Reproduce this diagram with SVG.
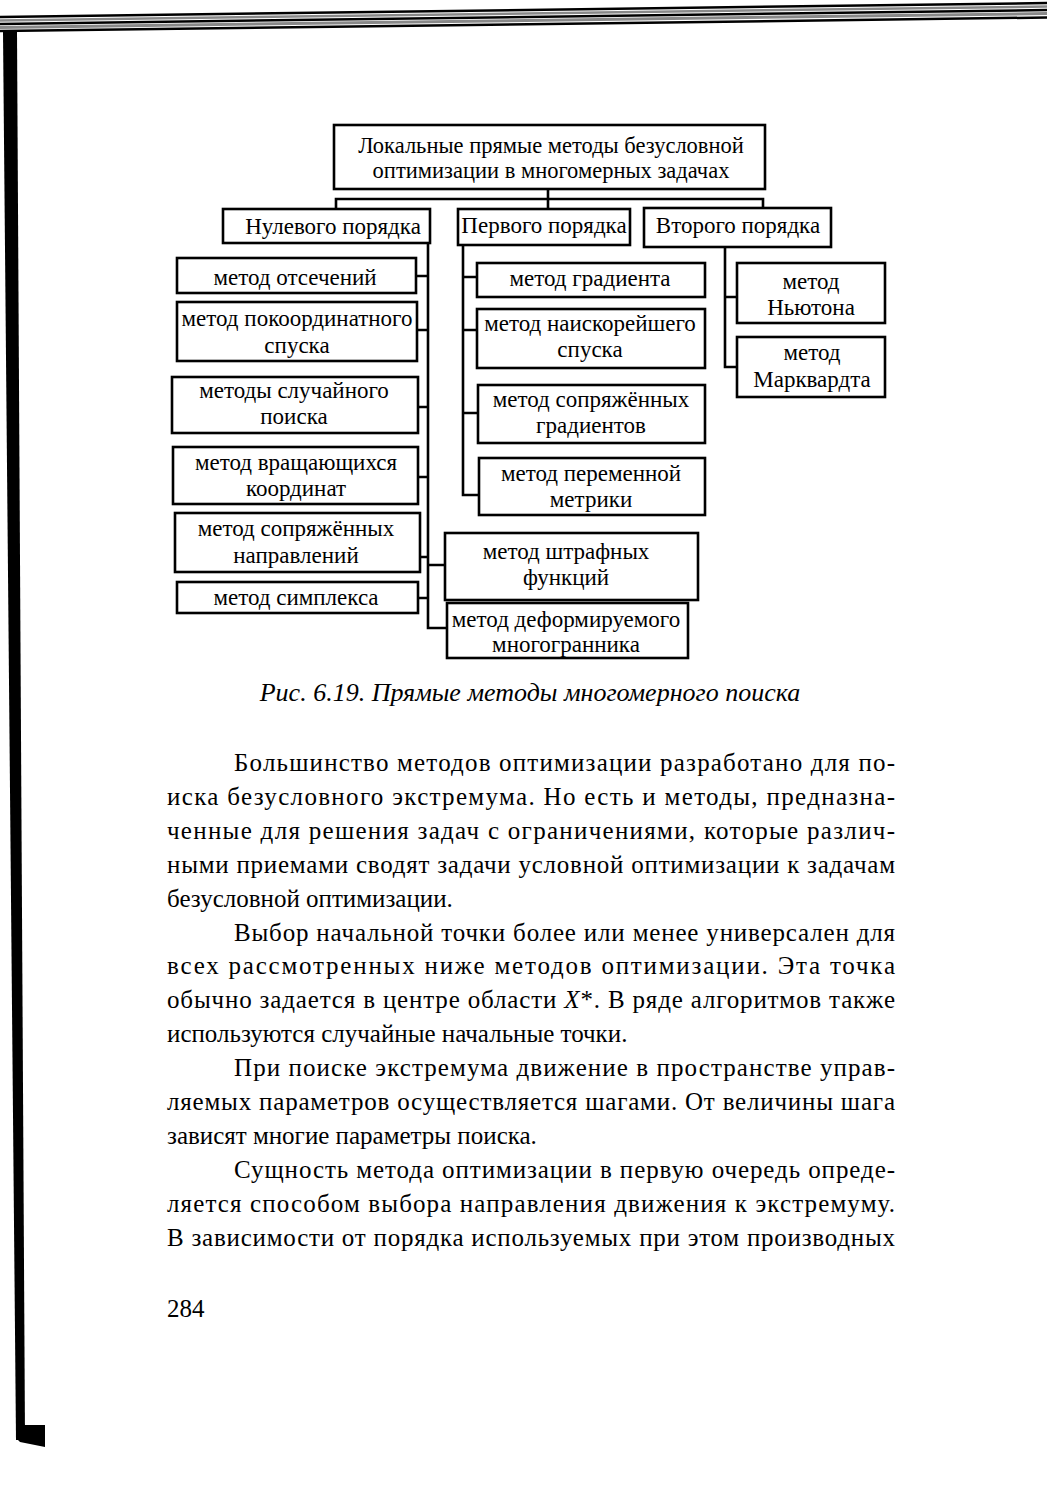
<svg xmlns="http://www.w3.org/2000/svg" width="1047" height="1496" viewBox="0 0 1047 1496">
<style>
.box{fill:#fff;stroke:#000;stroke-width:2.6}
.ln{stroke:#000;stroke-width:2.6;fill:none;stroke-linecap:square}
.t{font-family:"Liberation Serif","Times New Roman",serif;font-size:23px;fill:#000;text-anchor:middle}
.ti{font-family:"Liberation Serif","Times New Roman",serif;font-size:22.5px;fill:#000;text-anchor:middle}
.b{font-family:"Liberation Serif","Times New Roman",serif;font-size:25px;fill:#000}
.cap{font-family:"Liberation Serif","Times New Roman",serif;font-size:26px;font-style:italic;fill:#000;text-anchor:middle}
</style>
<rect width="1047" height="1496" fill="#fff"/>
<g id="scan-edges">
<line x1="0" y1="17" x2="1047" y2="3" stroke="#000" stroke-width="2.5"/>
<line x1="0" y1="20.5" x2="1047" y2="6.5" stroke="#888" stroke-width="2.5"/>
<line x1="0" y1="24" x2="1047" y2="10" stroke="#000" stroke-width="2.5"/>
<line x1="0" y1="27.5" x2="1047" y2="13.5" stroke="#888" stroke-width="3"/>
<line x1="0" y1="31" x2="1047" y2="17.5" stroke="#000" stroke-width="2.5"/>
<polygon points="3,32 17,32 25,1440 16,1440" fill="#000"/>
<polygon points="16,1425 45,1425 45,1447 20,1442 16,1438" fill="#000"/>
</g>
<g id="connectors">
<path class="ln" d="M548,189 V209 M336,199 H763 M336,199 V209 M763,199 V208"/>
<path class="ln" d="M428,243 V628 M416,276 H428 M417,330 H428 M418,407 H428 M418,477 H428 M420,557 H428 M418,598 H428 M428,565 H445 M428,628 H447"/>
<path class="ln" d="M463,245 V495 M463,277 H477 M463,330 H477 M463,413 H478 M463,495 H479"/>
<path class="ln" d="M725,247 V367 M725,297 H737 M725,367 H737"/>
</g>
<g id="root"><rect class="box" x="334" y="125" width="431" height="64"/><text class="ti" x="551" y="153">Локальные прямые методы безусловной</text><text class="ti" x="551" y="178">оптимизации в многомерных задачах</text></g>
<g id="order0"><rect class="box" x="223" y="209" width="207" height="34"/><text class="t" x="333" y="234">Нулевого порядка</text></g>
<g id="order1"><rect class="box" x="458" y="209" width="172" height="36"/><text class="t" x="544" y="233">Первого порядка</text></g>
<g id="order2"><rect class="box" x="644" y="208" width="187" height="39"/><text class="t" x="738" y="233">Второго порядка</text></g>
<g id="m-otsech"><rect class="box" x="177" y="258" width="239" height="35"/><text class="t" x="295" y="285">метод отсечений</text></g>
<g id="m-pokoord"><rect class="box" x="177" y="302" width="240" height="59"/><text class="t" x="297" y="326">метод покоординатного</text><text class="t" x="297" y="353">спуска</text></g>
<g id="m-sluch"><rect class="box" x="172" y="377" width="246" height="56"/><text class="t" x="294" y="398">методы случайного</text><text class="t" x="294" y="424">поиска</text></g>
<g id="m-vrasch"><rect class="box" x="173" y="447" width="245" height="57"/><text class="t" x="296" y="470">метод вращающихся</text><text class="t" x="296" y="496">координат</text></g>
<g id="m-sopr-napr"><rect class="box" x="175" y="513" width="245" height="59"/><text class="t" x="296" y="536">метод сопряжённых</text><text class="t" x="296" y="563">направлений</text></g>
<g id="m-simplex"><rect class="box" x="177" y="582" width="241" height="31"/><text class="t" x="296" y="605">метод симплекса</text></g>
<g id="m-grad"><rect class="box" x="477" y="263" width="228" height="34"/><text class="t" x="590" y="286">метод градиента</text></g>
<g id="m-naisk"><rect class="box" x="477" y="309" width="228" height="59"/><text class="t" x="590" y="331">метод наискорейшего</text><text class="t" x="590" y="357">спуска</text></g>
<g id="m-sopr-grad"><rect class="box" x="478" y="385" width="227" height="58"/><text class="t" x="591" y="407">метод сопряжённых</text><text class="t" x="591" y="433">градиентов</text></g>
<g id="m-perem"><rect class="box" x="479" y="458" width="226" height="57"/><text class="t" x="591" y="481">метод переменной</text><text class="t" x="591" y="507">метрики</text></g>
<g id="m-shtraf"><rect class="box" x="445" y="533" width="253" height="67"/><text class="t" x="566" y="559">метод штрафных</text><text class="t" x="566" y="585">функций</text></g>
<g id="m-deform"><rect class="box" x="447" y="603" width="241" height="55"/><text class="t" x="566" y="627">метод деформируемого</text><text class="t" x="566" y="652">многогранника</text></g>
<g id="m-newton"><rect class="box" x="737" y="263" width="148" height="60"/><text class="t" x="811" y="289">метод</text><text class="t" x="811" y="315">Ньютона</text></g>
<g id="m-marq"><rect class="box" x="737" y="337" width="148" height="60"/><text class="t" x="812" y="360">метод</text><text class="t" x="812" y="387">Марквардта</text></g>
<text class="cap" x="530" y="701">Рис. 6.19. Прямые методы многомерного поиска</text>
<g id="body">
<text class="b" x="234" y="771" textLength="661" lengthAdjust="spacing">Большинство методов оптимизации разработано для по-</text>
<text class="b" x="167" y="805" textLength="728" lengthAdjust="spacing">иска безусловного экстремума. Но есть и методы, предназна-</text>
<text class="b" x="167" y="839" textLength="728" lengthAdjust="spacing">ченные для решения задач с ограничениями, которые различ-</text>
<text class="b" x="167" y="873" textLength="728" lengthAdjust="spacing">ными приемами сводят задачи условной оптимизации к задачам</text>
<text class="b" x="167" y="907">безусловной оптимизации.</text>
<text class="b" x="234" y="941" textLength="661" lengthAdjust="spacing">Выбор начальной точки более или менее универсален для</text>
<text class="b" x="167" y="974" textLength="728" lengthAdjust="spacing">всех рассмотренных ниже методов оптимизации. Эта точка</text>
<text class="b" x="167" y="1008" textLength="728" lengthAdjust="spacing">обычно задается в центре области <tspan font-style="italic">X</tspan>*. В ряде алгоритмов также</text>
<text class="b" x="167" y="1042">используются случайные начальные точки.</text>
<text class="b" x="234" y="1076" textLength="661" lengthAdjust="spacing">При поиске экстремума движение в пространстве управ-</text>
<text class="b" x="167" y="1110" textLength="728" lengthAdjust="spacing">ляемых параметров осуществляется шагами. От величины шага</text>
<text class="b" x="167" y="1144">зависят многие параметры поиска.</text>
<text class="b" x="234" y="1178" textLength="661" lengthAdjust="spacing">Сущность метода оптимизации в первую очередь опреде-</text>
<text class="b" x="167" y="1212" textLength="728" lengthAdjust="spacing">ляется способом выбора направления движения к экстремуму.</text>
<text class="b" x="167" y="1246" textLength="728" lengthAdjust="spacing">В зависимости от порядка используемых при этом производных</text>
<text class="b" x="167" y="1317">284</text>
</g>
</svg>
